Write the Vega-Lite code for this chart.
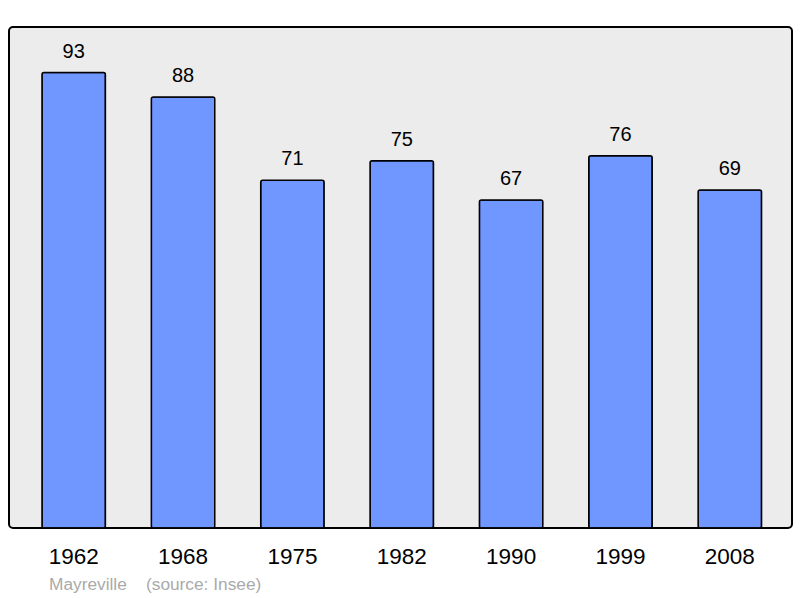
{
  "$schema": "https://vega.github.io/schema/vega-lite/v6.json",
  "width": 783,
  "height": 501,
  "autosize": {"type": "none"},
  "padding": {"left": 9, "top": 27, "right": 8, "bottom": 70},
  "background": "white",
  "config": {
    "view": {"fill": "#ececec", "stroke": "#000000", "strokeWidth": 2, "cornerRadius": 4},
    "font": "Liberation Sans"
  },
  "title": {
    "text": "Mayreville\u00a0\u00a0\u00a0\u00a0(source: Insee)",
    "orient": "bottom",
    "anchor": "start",
    "frame": "group",
    "dx": 40,
    "offset": 8,
    "fontSize": 17.3,
    "fontWeight": "normal",
    "color": "#aaaaaa",
    "font": "Liberation Sans"
  },
  "data": {
    "values": [
      {"year": "1962", "pop": 93},
      {"year": "1968", "pop": 88},
      {"year": "1975", "pop": 71},
      {"year": "1982", "pop": 75},
      {"year": "1990", "pop": 67},
      {"year": "1999", "pop": 76},
      {"year": "2008", "pop": 69}
    ]
  },
  "encoding": {
    "x": {
      "field": "year",
      "type": "nominal",
      "sort": null,
      "scale": {"paddingInner": 0.42, "paddingOuter": 0.29, "align": 0.52},
      "axis": {
        "title": null,
        "domain": false,
        "ticks": false,
        "labelAngle": 0,
        "labelFontSize": 22.5,
        "labelColor": "#000000",
        "labelPadding": 17,
        "labelFont": "Liberation Sans"
      }
    },
    "y": {
      "field": "pop",
      "type": "quantitative",
      "scale": {"domain": [0, 102.3], "nice": false},
      "axis": null
    }
  },
  "layer": [
    {
      "mark": {"type": "bar", "fill": "#7096ff", "stroke": "#000000", "strokeWidth": 1.5, "cornerRadius": 2}
    },
    {
      "mark": {"type": "text", "baseline": "alphabetic", "dy": -15, "fontSize": 20, "color": "#000000"},
      "encoding": {"text": {"field": "pop", "type": "quantitative"}}
    }
  ]
}
